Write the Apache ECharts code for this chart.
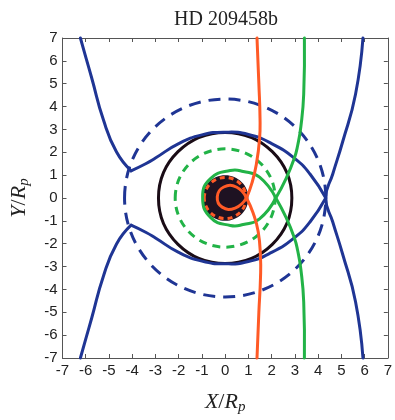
<!DOCTYPE html>
<html>
<head>
<meta charset="utf-8">
<script src="https://cdn.jsdelivr.net/npm/echarts@6/dist/echarts.min.js"></script>
<style>
  html, body { margin: 0; padding: 0; background: #fff; }
  #chart { width: 395px; height: 420px; }
</style>
</head>
<body>
<div id="chart"></div>
<script>
// axis ticks
var ticks = [-7, 7, 1]

// circles: [cx, cy, r]
var planetDisk = [[0, 0, 1.0]]
var orangeRing = [[0, 0, 0.9]]
var blackRing = [[0, 0, 2.87]]
var greenRing = [[0, 0, 2.15]]
var blueRing = [[0, 0, 4.33]]

// blue critical curve
var blueLeftUpper = [[-6.23, 7], [-5.98, 6.1], [-5.74, 5.24], [-5.24, 3.42], [-4.68, 2.02], [-4.05, 1.19]]
var blueLeftLower = [[-6.23, -7], [-5.98, -6.1], [-5.74, -5.24], [-5.24, -3.42], [-4.68, -2.02], [-4.05, -1.19]]
var blueArcUpper = [[-4.05, 1.19], [-3.42, 1.5], [-3.0, 1.75], [-2.0, 2.38], [-1.0, 2.76], [0, 2.88],
  [1.0, 2.78], [2.0, 2.38], [3.0, 1.72], [3.65, 1.05], [4.33, 0]]
var blueArcLower = [[-4.05, -1.19], [-3.42, -1.5], [-3.0, -1.75], [-2.0, -2.38], [-1.0, -2.76], [0, -2.88],
  [1.0, -2.78], [2.0, -2.38], [3.0, -1.72], [3.65, -1.05], [4.33, 0]]
var blueRight = [[5.93, 7], [5.61, 4.54], [5.05, 2.44], [4.63, 1.05], [4.33, 0],
  [4.63, -1.05], [5.05, -2.44], [5.61, -4.54], [5.93, -7]]

// green curve
var greenUpper = [[3.41, 7], [3.38, 4.54], [3.26, 3.14], [3.12, 2.3], [2.98, 1.75], [2.62, 0.85], [2.18, 0]]
var greenLower = [[3.41, -7], [3.38, -4.54], [3.26, -3.14], [3.12, -2.3], [2.98, -1.75], [2.62, -0.85], [2.18, 0]]
var greenLobe = [[2.18, 0], [1.48, 0.91], [0.78, 1.16], [0.22, 1.2], [-0.62, 0.86], [-0.97, 0.05],
  [-0.62, -0.86], [0.22, -1.2], [0.78, -1.16], [1.48, -0.91], [2.18, 0]]

// orange curve
var orangeUpper = [[1.37, 7], [1.45, 5.0], [1.5, 3.5], [1.48, 2.58], [1.34, 1.47], [1.15, 0.65], [0.92, 0]]
var orangeLower = [[1.37, -7], [1.45, -5.0], [1.52, -3.5], [1.52, -2.58], [1.42, -1.47], [1.2, -0.65], [0.92, 0]]
var orangeLoop = [[0.92, 0], [0.5, 0.47], [-0.06, 0.48], [-0.34, 0.05], [-0.13, -0.4], [0.43, -0.44], [0.92, 0]]

var BLUE = '#1f3594'
var GREEN = '#22b347'
var ORANGE = '#ff5a26'
var DARK = '#1a0c16'

function circleSeries(data, stroke, fill, width, dash) {
  return {
    type: 'custom',
    data: data,
    encode: { x: 0, y: 1 },
    silent: true,
    renderItem: function(params, api) {
      var c = api.coord([api.value(0), api.value(1)])
      var s = api.size([api.value(2), api.value(2)])
      return {
        type: 'ellipse',
        shape: { cx: c[0], cy: c[1], rx: s[0], ry: s[1] },
        style: { fill: fill, stroke: stroke, lineWidth: width, lineDash: dash }
      }
    }
  }
}

// smooth polyline through the read points, placed with the axis scales
function curve(data, color, smooth) {
  return {
    type: 'custom',
    data: data,
    encode: { x: 0, y: 1 },
    silent: true,
    renderItem: function(params, api) {
      if (params.dataIndex !== 0) return null
      var pts = data.map(function(p) { return api.coord(p) })
      return {
        type: 'polyline',
        shape: { points: pts, smooth: smooth },
        style: { fill: null, stroke: color, lineWidth: 3, lineJoin: 'round', lineCap: 'round' }
      }
    }
  }
}

function axisBase(pos, labels) {
  return {
    type: 'value',
    position: pos,
    min: ticks[0],
    max: ticks[1],
    interval: ticks[2],
    axisLine: { show: true, onZero: false, lineStyle: { color: '#555', width: 1 } },
    axisTick: { show: true, inside: true, length: 4, lineStyle: { color: '#555' } },
    axisLabel: { show: labels, fontFamily: 'Liberation Sans', fontSize: 15, color: '#222', margin: 5 },
    splitLine: { show: false }
  }
}

var chart = echarts.init(document.getElementById('chart'))

var nameStyle = {
  fontFamily: 'Liberation Serif', fontSize: 22, color: '#222',
  rich: {
    i: { fontFamily: 'Liberation Serif', fontStyle: 'italic', fontSize: 22, color: '#222' },
    n: { fontFamily: 'Liberation Serif', fontSize: 22, color: '#222' },
    s: { fontFamily: 'Liberation Serif', fontStyle: 'italic', fontSize: 15, color: '#222', padding: [10, 0, 0, 0] }
  }
}

var xBottom = axisBase('bottom', true)
xBottom.name = '{i|X}{n|/}{i|R}{s|p}'
xBottom.nameLocation = 'middle'
xBottom.nameGap = 32
xBottom.nameTextStyle = nameStyle
var xTop = axisBase('top', false)

var yLeft = axisBase('left', true)
yLeft.name = '{i|Y}{n|/}{i|R}{s|p}'
yLeft.nameLocation = 'middle'
yLeft.nameGap = 31
yLeft.nameRotate = 90
yLeft.nameTextStyle = nameStyle
var yRight = axisBase('right', false)

chart.setOption({
  animation: false,
  title: {
    text: 'HD 209458b',
    left: 221,
    top: 5,
    textAlign: 'center',
    textStyle: { fontFamily: 'Liberation Serif', fontWeight: 'normal', fontSize: 20, color: '#222' }
  },
  grid: { left: 55, right: 7, top: 38, bottom: 48 },
  xAxis: [xBottom, xTop],
  yAxis: [yLeft, yRight],
  series: [
    circleSeries(planetDisk, null, '#1e1222', 0, null),
    circleSeries(orangeRing, ORANGE, null, 3, [5, 4]),
    circleSeries(blackRing, DARK, null, 3, null),
    circleSeries(greenRing, GREEN, null, 3, [8, 6]),
    circleSeries(blueRing, BLUE, null, 3, [12, 8]),
    curve(blueLeftUpper, BLUE, 0.5),
    curve(blueLeftLower, BLUE, 0.5),
    curve(blueArcUpper, BLUE, 0.5),
    curve(blueArcLower, BLUE, 0.5),
    curve(blueRight, BLUE, 0.5),
    curve(greenUpper, GREEN, 0.5),
    curve(greenLower, GREEN, 0.5),
    curve(greenLobe, GREEN, 0.5),
    curve(orangeUpper, ORANGE, 0.5),
    curve(orangeLower, ORANGE, 0.5),
    curve(orangeLoop, ORANGE, 0.5)
  ]
})
</script>
</body>
</html>
